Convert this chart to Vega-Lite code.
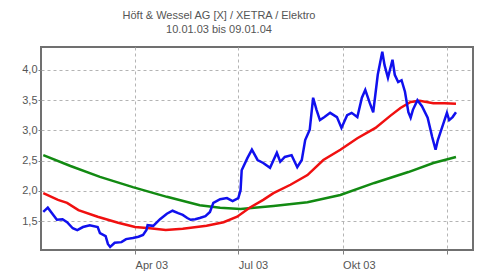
{
  "$schema": "https://vega.github.io/schema/vega-lite/v6.json",
  "width": 432,
  "height": 203,
  "autosize": {"type": "none"},
  "padding": {"left": 41, "top": 47, "right": 8, "bottom": 23},
  "background": "white",
  "title": {
    "text": ["Höft & Wessel AG [X] / XETRA / Elektro", "10.01.03 bis 09.01.04"],
    "font": "Liberation Sans",
    "fontSize": 11,
    "fontWeight": "normal",
    "color": "#555555",
    "lineHeight": 14,
    "anchor": "middle",
    "dx": -38,
    "offset": 12
  },
  "config": {
    "view": {"stroke": "#707070", "strokeWidth": 2},
    "axis": {
      "labelFont": "Liberation Sans",
      "labelFontSize": 11,
      "labelColor": "#555555",
      "domain": false,
      "tickColor": "#808080",
      "tickSize": 4,
      "gridColor": "#b4b4b4",
      "gridDash": [3, 3],
      "gridWidth": 1,
      "title": null
    }
  },
  "datasets": {
    "kurs": [
      {"d": "2003-01-10", "v": 1.65}, {"d": "2003-01-14", "v": 1.72}, {"d": "2003-01-22", "v": 1.52},
      {"d": "2003-01-27", "v": 1.53}, {"d": "2003-01-31", "v": 1.48}, {"d": "2003-02-05", "v": 1.38},
      {"d": "2003-02-09", "v": 1.35}, {"d": "2003-02-14", "v": 1.40}, {"d": "2003-02-20", "v": 1.43},
      {"d": "2003-02-27", "v": 1.40}, {"d": "2003-03-01", "v": 1.30}, {"d": "2003-03-06", "v": 1.25},
      {"d": "2003-03-08", "v": 1.12}, {"d": "2003-03-10", "v": 1.07}, {"d": "2003-03-14", "v": 1.14},
      {"d": "2003-03-20", "v": 1.15}, {"d": "2003-03-24", "v": 1.20}, {"d": "2003-03-30", "v": 1.22},
      {"d": "2003-04-04", "v": 1.24}, {"d": "2003-04-08", "v": 1.27}, {"d": "2003-04-11", "v": 1.35},
      {"d": "2003-04-12", "v": 1.43}, {"d": "2003-04-17", "v": 1.42}, {"d": "2003-04-23", "v": 1.53},
      {"d": "2003-04-29", "v": 1.62}, {"d": "2003-05-04", "v": 1.67}, {"d": "2003-05-09", "v": 1.63},
      {"d": "2003-05-13", "v": 1.60}, {"d": "2003-05-17", "v": 1.55}, {"d": "2003-05-20", "v": 1.52},
      {"d": "2003-05-24", "v": 1.53}, {"d": "2003-05-28", "v": 1.55}, {"d": "2003-06-02", "v": 1.58},
      {"d": "2003-06-06", "v": 1.65}, {"d": "2003-06-09", "v": 1.80}, {"d": "2003-06-15", "v": 1.86},
      {"d": "2003-06-21", "v": 1.88}, {"d": "2003-06-26", "v": 1.83}, {"d": "2003-07-01", "v": 1.88},
      {"d": "2003-07-03", "v": 2.01}, {"d": "2003-07-04", "v": 2.34}, {"d": "2003-07-09", "v": 2.54},
      {"d": "2003-07-13", "v": 2.68}, {"d": "2003-07-18", "v": 2.51}, {"d": "2003-07-23", "v": 2.46},
      {"d": "2003-07-29", "v": 2.38}, {"d": "2003-08-04", "v": 2.63}, {"d": "2003-08-07", "v": 2.48},
      {"d": "2003-08-11", "v": 2.56}, {"d": "2003-08-17", "v": 2.59}, {"d": "2003-08-22", "v": 2.39},
      {"d": "2003-08-26", "v": 2.51}, {"d": "2003-08-29", "v": 2.84}, {"d": "2003-09-02", "v": 3.01},
      {"d": "2003-09-05", "v": 3.54}, {"d": "2003-09-08", "v": 3.34}, {"d": "2003-09-11", "v": 3.17},
      {"d": "2003-09-15", "v": 3.22}, {"d": "2003-09-20", "v": 3.29}, {"d": "2003-09-26", "v": 3.22},
      {"d": "2003-09-30", "v": 3.04}, {"d": "2003-10-05", "v": 3.25}, {"d": "2003-10-09", "v": 3.29},
      {"d": "2003-10-14", "v": 3.22}, {"d": "2003-10-18", "v": 3.54}, {"d": "2003-10-21", "v": 3.67},
      {"d": "2003-10-25", "v": 3.45}, {"d": "2003-10-28", "v": 3.30}, {"d": "2003-11-01", "v": 3.92},
      {"d": "2003-11-05", "v": 4.30}, {"d": "2003-11-07", "v": 4.08}, {"d": "2003-11-10", "v": 3.87},
      {"d": "2003-11-14", "v": 4.17}, {"d": "2003-11-16", "v": 3.92}, {"d": "2003-11-19", "v": 3.80},
      {"d": "2003-11-22", "v": 3.83}, {"d": "2003-11-25", "v": 3.64}, {"d": "2003-11-28", "v": 3.30},
      {"d": "2003-11-30", "v": 3.21}, {"d": "2003-12-02", "v": 3.34}, {"d": "2003-12-06", "v": 3.50},
      {"d": "2003-12-10", "v": 3.40}, {"d": "2003-12-15", "v": 3.21}, {"d": "2003-12-19", "v": 2.89},
      {"d": "2003-12-22", "v": 2.68}, {"d": "2003-12-24", "v": 2.84}, {"d": "2003-12-29", "v": 3.12},
      {"d": "2004-01-01", "v": 3.29}, {"d": "2004-01-03", "v": 3.17}, {"d": "2004-01-06", "v": 3.22},
      {"d": "2004-01-09", "v": 3.30}
    ],
    "ma_kurz": [
      {"d": "2003-01-10", "v": 1.96}, {"d": "2003-01-23", "v": 1.85}, {"d": "2003-01-31", "v": 1.80},
      {"d": "2003-02-10", "v": 1.68}, {"d": "2003-02-27", "v": 1.57}, {"d": "2003-03-17", "v": 1.47},
      {"d": "2003-04-01", "v": 1.40}, {"d": "2003-04-14", "v": 1.38}, {"d": "2003-04-28", "v": 1.35},
      {"d": "2003-05-13", "v": 1.37}, {"d": "2003-06-03", "v": 1.42}, {"d": "2003-06-18", "v": 1.48},
      {"d": "2003-06-30", "v": 1.57}, {"d": "2003-07-11", "v": 1.72}, {"d": "2003-07-23", "v": 1.85},
      {"d": "2003-08-01", "v": 1.96}, {"d": "2003-08-16", "v": 2.10}, {"d": "2003-08-31", "v": 2.26},
      {"d": "2003-09-14", "v": 2.51}, {"d": "2003-09-29", "v": 2.68}, {"d": "2003-10-14", "v": 2.87},
      {"d": "2003-10-30", "v": 3.04}, {"d": "2003-11-12", "v": 3.24}, {"d": "2003-11-21", "v": 3.37},
      {"d": "2003-11-30", "v": 3.47}, {"d": "2003-12-08", "v": 3.49}, {"d": "2003-12-20", "v": 3.45},
      {"d": "2003-12-30", "v": 3.45}, {"d": "2004-01-09", "v": 3.44}
    ],
    "ma_lang": [
      {"d": "2003-01-10", "v": 2.59}, {"d": "2003-02-03", "v": 2.41}, {"d": "2003-03-01", "v": 2.23},
      {"d": "2003-03-30", "v": 2.06}, {"d": "2003-04-29", "v": 1.90}, {"d": "2003-05-28", "v": 1.76},
      {"d": "2003-06-15", "v": 1.72}, {"d": "2003-07-03", "v": 1.70}, {"d": "2003-08-01", "v": 1.75},
      {"d": "2003-08-31", "v": 1.81}, {"d": "2003-09-29", "v": 1.93}, {"d": "2003-10-29", "v": 2.13},
      {"d": "2003-11-28", "v": 2.31}, {"d": "2003-12-20", "v": 2.46}, {"d": "2004-01-09", "v": 2.56}
    ]
  },
  "encoding": {
    "x": {
      "field": "d",
      "type": "temporal",
      "scale": {"domain": ["2003-01-08", "2004-01-24"]},
      "axis": {
        "values": ["2003-04-01", "2003-07-01", "2003-10-01", "2004-01-01"],
        "labelAlign": "left",
        "labelPadding": 5,
        "labelExpr": "month(datum.value)==3 ? 'Apr 03' : month(datum.value)==6 ? 'Jul 03' : month(datum.value)==9 ? 'Okt 03' : ''",
        "grid": true
      }
    },
    "y": {
      "field": "v",
      "type": "quantitative",
      "scale": {"domain": [1.02, 4.38], "nice": false, "zero": false},
      "axis": {
        "values": [1.5, 2.0, 2.5, 3.0, 3.5, 4.0],
        "labelExpr": "replace(format(datum.value, '.1f'), '.', ',')",
        "labelPadding": 1,
        "tickSize": 3,
        "grid": true
      }
    }
  },
  "layer": [
    {"data": {"name": "ma_lang"}, "mark": {"type": "line", "color": "#128a12", "strokeWidth": 2.5}},
    {"data": {"name": "ma_kurz"}, "mark": {"type": "line", "color": "#f01010", "strokeWidth": 2.5}},
    {"data": {"name": "kurs"}, "mark": {"type": "line", "color": "#1010ee", "strokeWidth": 2.5}}
  ]
}
